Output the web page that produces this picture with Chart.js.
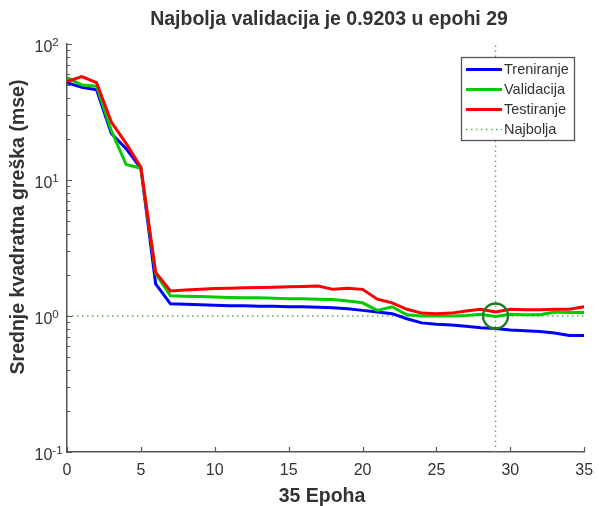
<!DOCTYPE html>
<html>
<head>
<meta charset="utf-8">
<script src="https://cdn.jsdelivr.net/npm/chart.js@4/dist/chart.umd.min.js"></script>
<style>
  html, body { margin: 0; padding: 0; background: #fff; }
  #wrap { width: 599px; height: 506px; }
</style>
</head>
<body>
<div id="wrap"><canvas id="perfChart" width="599" height="506"></canvas></div>
<script>
// epochs 0..35
const epochs = [0,1,2,3,4,5,6,7,8,9,10,11,12,13,14,15,16,17,18,19,20,21,22,23,24,25,26,27,28,29,30,31,32,33,34,35];
const treniranje = [52, 48, 46, 22, 17, 12.2, 1.72, 1.23, 1.22, 1.21, 1.2, 1.19, 1.19, 1.18, 1.18, 1.17, 1.17, 1.16, 1.15, 1.13, 1.10, 1.07, 1.04, 0.955, 0.89, 0.87, 0.86, 0.84, 0.82, 0.81, 0.79, 0.78, 0.77, 0.75, 0.72, 0.72];
const validacija = [56.5, 50, 49, 23, 13, 12.2, 2.05, 1.41, 1.40, 1.39, 1.38, 1.37, 1.36, 1.36, 1.35, 1.34, 1.34, 1.33, 1.32, 1.29, 1.25, 1.10, 1.17, 1.02, 1.0, 1.0, 1.0, 1.01, 1.03, 0.99, 1.03, 1.02, 1.02, 1.07, 1.06, 1.06];
const testiranje = [53, 57.5, 52, 26.7, 18.6, 12.4, 2.09, 1.53, 1.55, 1.57, 1.59, 1.60, 1.61, 1.62, 1.63, 1.64, 1.65, 1.66, 1.57, 1.60, 1.57, 1.33, 1.25, 1.12, 1.05, 1.04, 1.05, 1.09, 1.12, 1.07, 1.12, 1.11, 1.11, 1.12, 1.12, 1.17];
const bestEpoch = 29;
const bestValue = 1.0;
const xTicks = [0, 5, 10, 15, 20, 25, 30, 35];
const yTicks = [0.1, 1, 10, 100];
const yTickExp = ['-1', '0', '1', '2'];

const FONT = "'Liberation Sans', Arial, sans-serif";
const TXT = '#333';
const BEST_GREEN = '#4fba4f';

function toPoints(arr) {
    return arr.map((v, i) => ({ x: epochs[i], y: v }));
}

// titles + tick labels drawn matlab style (superscript exponents)
const textPlugin = {
    id: 'matlabText',
    afterDraw(chart) {
        const ctx = chart.ctx;
        const xs = chart.scales.x, ys = chart.scales.y;
        ctx.save();
        ctx.fillStyle = TXT;

        ctx.font = 'bold 19.5px ' + FONT;
        ctx.textAlign = 'center';
        ctx.textBaseline = 'middle';
        ctx.fillText('Najbolja validacija je 0.9203 u epohi 29', 329, 20);
        ctx.fillText('35 Epoha', 322, 497);

        ctx.save();
        ctx.translate(19, 227);
        ctx.rotate(-Math.PI / 2);
        ctx.fillText('Srednje kvadratna greška (mse)', 0, 0);
        ctx.restore();

        // x tick labels
        ctx.font = '16px ' + FONT;
        xTicks.forEach(t => {
            ctx.fillText(String(t), xs.getPixelForValue(t), 471);
        });

        // y tick labels: 10 with raised exponent
        ctx.textBaseline = 'alphabetic';
        ctx.textAlign = 'left';
        yTicks.forEach((t, i) => {
            const py = ys.getPixelForValue(t);
            ctx.font = '16px ' + FONT;
            const bw = ctx.measureText('10').width;
            ctx.fillText('10', 34.5, py + 8);
            ctx.font = '11.5px ' + FONT;
            ctx.fillText(yTickExp[i], 34.5 + bw, py + 2);
        });
        ctx.restore();
    }
};

// inward tick marks
const innerTicks = {
    id: 'innerTicks',
    afterDraw(chart) {
        const ctx = chart.ctx, a = chart.chartArea;
        const xs = chart.scales.x, ys = chart.scales.y;
        ctx.save();
        ctx.strokeStyle = '#555';
        ctx.lineWidth = 1.2;
        ctx.beginPath();
        xTicks.forEach(t => {
            const px = Math.round(xs.getPixelForValue(t)) + 0.5;
            ctx.moveTo(px, a.bottom);
            ctx.lineTo(px, a.bottom - 5);
        });
        [0.1, 1, 10].forEach(dec => {
            for (let m = 1; m <= 9; m++) {
                const py = Math.round(ys.getPixelForValue(dec * m)) + 0.5;
                ctx.moveTo(a.left, py);
                ctx.lineTo(a.left + (m === 1 ? 5 : 3), py);
            }
        });
        const top = Math.round(ys.getPixelForValue(100)) + 0.5;
        ctx.moveTo(a.left, top);
        ctx.lineTo(a.left + 5, top);
        ctx.stroke();
        ctx.restore();
    }
};

// legend box in the upper right of the axes
const boxLegend = {
    id: 'boxLegend',
    afterDraw(chart) {
        const ctx = chart.ctx;
        const x0 = 461, y0 = 57, w = 113, h = 83;
        const items = [
            { label: 'Treniranje', color: '#0000ff', dash: [] },
            { label: 'Validacija', color: '#00cc00', dash: [] },
            { label: 'Testiranje', color: '#ff0000', dash: [] },
            { label: 'Najbolja', color: BEST_GREEN, dash: [1.5, 3.5] }
        ];
        ctx.save();
        ctx.fillStyle = '#fff';
        ctx.fillRect(x0, y0, w, h);
        ctx.strokeStyle = '#555';
        ctx.lineWidth = 1.3;
        ctx.strokeRect(x0 + 0.5, y0 + 0.5, w, h);
        ctx.font = '14.5px ' + FONT;
        ctx.textBaseline = 'middle';
        items.forEach((it, i) => {
            const y = y0 + 12.5 + i * 20;
            ctx.beginPath();
            ctx.setLineDash(it.dash);
            ctx.strokeStyle = it.color;
            ctx.lineWidth = it.dash.length ? 1.3 : 3;
            ctx.moveTo(x0 + 5, y);
            ctx.lineTo(x0 + 41, y);
            ctx.stroke();
            ctx.setLineDash([]);
            ctx.fillStyle = TXT;
            ctx.fillText(it.label, x0 + 43, y);
        });
        ctx.restore();
    }
};

const ctx = document.getElementById('perfChart').getContext('2d');
new Chart(ctx, {
    type: 'line',
    data: {
        datasets: [
            {
                label: 'Najbolja-v',
                data: [{ x: bestEpoch, y: 0.1 }, { x: bestEpoch, y: 100 }],
                borderColor: BEST_GREEN, borderWidth: 1.4, borderDash: [1.5, 3.5],
                pointRadius: 0, order: 6
            },
            {
                label: 'Najbolja',
                data: [{ x: 0, y: bestValue }, { x: 35, y: bestValue }],
                borderColor: BEST_GREEN, borderWidth: 1.4, borderDash: [1.5, 3.5],
                pointRadius: 0, order: 5
            },
            {
                label: 'Treniranje',
                data: toPoints(treniranje),
                borderColor: '#0000ff', borderWidth: 3, pointRadius: 0, order: 4
            },
            {
                label: 'Validacija',
                data: toPoints(validacija),
                borderColor: '#00cc00', borderWidth: 3, pointRadius: 0, order: 3
            },
            {
                label: 'Testiranje',
                data: toPoints(testiranje),
                borderColor: '#ff0000', borderWidth: 3, pointRadius: 0, order: 2
            },
            {
                label: 'Best circle',
                data: [{ x: bestEpoch, y: bestValue }],
                showLine: false,
                pointRadius: 12.5, pointHoverRadius: 12.5,
                pointBorderWidth: 2.3,
                pointBorderColor: '#1f7a1f',
                pointBackgroundColor: 'rgba(0,0,0,0)',
                order: 1
            }
        ]
    },
    options: {
        responsive: false,
        animation: false,
        layout: { padding: { top: 44, right: 10, left: 0, bottom: 0 } },
        plugins: {
            legend: { display: false },
            tooltip: { enabled: false }
        },
        scales: {
            x: {
                type: 'linear', min: 0, max: 35,
                afterBuildTicks: s => { s.ticks = xTicks.map(v => ({ value: v })); },
                grid: { display: false },
                border: { display: true, color: '#555', width: 1.5 },
                ticks: { display: false },
                afterFit: s => { s.height = 54; }
            },
            y: {
                type: 'logarithmic', min: 0.1, max: 100,
                afterBuildTicks: s => { s.ticks = yTicks.map(v => ({ value: v })); },
                grid: { display: false },
                border: { display: true, color: '#555', width: 1.5 },
                ticks: { display: false },
                afterFit: s => { s.width = 67; }
            }
        }
    },
    plugins: [innerTicks, textPlugin, boxLegend]
});
</script>
</body>
</html>
